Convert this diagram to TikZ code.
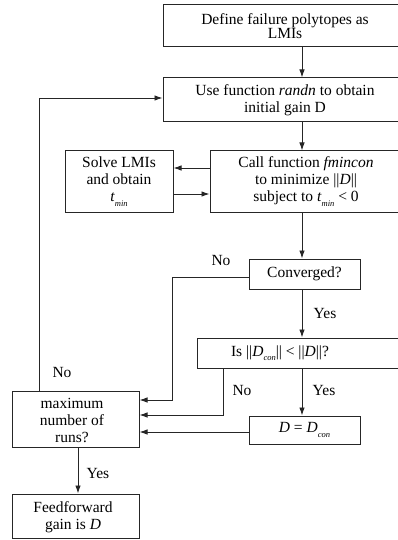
\documentclass[tikz,border=0pt]{standalone}
\usepackage{fontspec}
\setmainfont{Liberation Serif}
\usetikzlibrary{arrows.meta,calc}
\newcommand\lowsub[1]{\raisebox{-0.6ex}{\fontsize{8.5}{8.5}\selectfont\itshape #1}}
\begin{document}
\begin{tikzpicture}[x=1pt,y=-1pt,
  box/.style={draw=black!85, line width=1pt, rectangle, inner sep=0pt, align=center,
    font=\fontsize{15.5}{17}\selectfont},
  arr/.style={draw=black!85, line width=0.9pt, -{Latex[length=8pt,width=5.5pt]}},
  lbl/.style={font=\fontsize{15.5}{17}\selectfont, inner sep=0pt}]
\useasboundingbox (0,0) rectangle (398,540);
\clip (0,0) rectangle (398,540);
\fill[white] (0,0) rectangle (398,540);

% boxes
\node[box, minimum width=244pt, minimum height=42pt, font=\fontsize{15.5}{14.5}\selectfont] (b1) at (285,26) {Define failure polytopes as\\LMIs};
\node[box, minimum width=244pt, minimum height=44pt] (b2) at (285,100) {Use function \textit{randn} to obtain\\initial gain D};
\node[box, minimum width=192pt, minimum height=61pt] (b3) at (306,181.5) {Call function \textit{fmincon}\\to minimize ||\textit{D}||\\subject to \textit{t}\lowsub{min} < 0};
\node[box, minimum width=108pt, minimum height=61pt] (solve) at (119,181.5) {Solve LMIs\\and obtain\\\textit{t}\lowsub{min}};
\node[box, minimum width=111pt, minimum height=30pt] (conv) at (304.5,274) {Converged?};
\node[box, minimum width=211pt, minimum height=30pt] (isb) at (302.5,353) {};
\node[lbl] (ist) at (280,353) {Is ||\textit{D}\lowsub{con}|| < ||\textit{D}||?};
\node[box, minimum width=111pt, minimum height=28pt] (dcon) at (304.5,430) {\textit{D} = \textit{D}\lowsub{con}};
\node[box, minimum width=127pt, minimum height=56pt] (maxr) at (75.5,419) {};
\node[lbl, align=center] (maxt) at (72,420) {maximum\\number of\\runs?};
\node[box, minimum width=127pt, minimum height=44pt] (ff) at (75.5,516) {};
\node[lbl, align=center] (fft) at (73,517) {Feedforward\\gain is \textit{D}};

% helper coordinates
\coordinate (cx) at (302,0);
\coordinate (cx2) at (78,0);
\coordinate (ya) at (0,168);
\coordinate (yb) at (0,194);
\coordinate (yc) at (0,277);
\coordinate (yd) at (0,432);
\coordinate (k1) at (172,400);
\coordinate (k2) at (223,415);
\coordinate (k3) at (39,98);

% connectors
\draw[arr] (b1.south -| cx) -- (b2.north -| cx);
\draw[arr] (b2.south -| cx) -- (b3.north -| cx);
\draw[arr] (b3.west |- ya) -- (solve.east |- ya);
\draw[arr] (solve.east |- yb) -- (b3.west |- yb);
\draw[arr] (b3.south -| cx) -- (conv.north -| cx);
\draw[arr] (conv.west |- yc) -| (k1) -- (maxr.east |- k1);
\draw[arr] (conv.south -| cx) -- (isb.north -| cx);
\draw[arr] (isb.south -| k2) -- (k2) -- (maxr.east |- k2);
\draw[arr] (isb.south -| cx) -- (dcon.north -| cx);
\draw[arr] (dcon.west |- yd) -- (maxr.east |- yd);
\draw[arr] (maxr.north -| k3) -- (k3) -- (b2.west |- k3);
\draw[arr] (maxr.south -| cx2) -- (ff.north -| cx2);

% labels
\node[lbl] (no1) at (221,260) {No};
\node[lbl] (no2) at (242,390) {No};
\node[lbl] (no3) at (62,372) {No};
\node[lbl] (yes1) at (325,313) {Yes};
\node[lbl] (yes2) at (324,390) {Yes};
\node[lbl] (yes3) at (98,473) {Yes};
\end{tikzpicture}
\end{document}
